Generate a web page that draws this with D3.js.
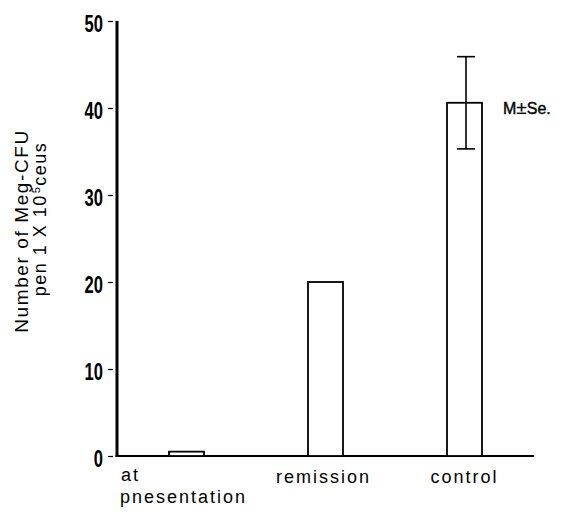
<!DOCTYPE html>
<html><head><meta charset="utf-8">
<script src="https://cdn.jsdelivr.net/npm/d3@7"></script>
<style>body{margin:0;background:#fff}svg{display:block}</style>
</head><body><svg id="c" width="578" height="512"></svg>
<script>
const categories = ["at presentation", "remission", "control"];
const values = [0.5, 20, 40.6];
const errors = [null, null, 5.3];
const yTicks = [0, 10, 20, 30, 40, 50];

const svg = d3.select("#c");
const x0 = 117, x1 = 534, yTop = 21, yBot = 456;
const x = d3.scalePoint().domain(categories).range([x0, x1]).padding(0.5);
const y = d3.scaleLinear().domain([0, 50]).range([yBot, yTop]);
const bw = 35;

// y axis
const yAxis = d3.axisLeft(y).tickValues(yTicks).tickSize(7).tickPadding(4).tickFormat(d3.format("d"));
const ga = svg.append("g").attr("transform", `translate(${x0 - 2},0)`).call(yAxis);
ga.select(".domain").remove();
ga.selectAll(".tick line").attr("stroke", "#000").attr("stroke-width", 1.2).attr("x2", -2).attr("x1", -7);
const sx = 0.72;
ga.selectAll(".tick text")
  .attr("font-family", "'Liberation Sans', Arial, sans-serif")
  .attr("font-weight", "bold").attr("font-size", 23).attr("fill", "#000")
  .attr("dy", "0.45em").attr("x", -12 / sx)
  .attr("transform", `scale(${sx},1)`);
svg.append("line").attr("x1", x0).attr("x2", x0).attr("y1", y(50)).attr("y2", yBot + 1)
  .attr("stroke", "#000").attr("stroke-width", 3);
// x axis
svg.append("line").attr("x1", x0 - 1.5).attr("x2", x1).attr("y1", yBot).attr("y2", yBot)
  .attr("stroke", "#000").attr("stroke-width", 2);

// bars
svg.selectAll("rect.bar").data(categories).enter().append("rect")
  .attr("x", d => x(d) - bw / 2).attr("width", bw)
  .attr("y", (d, i) => y(values[i])).attr("height", (d, i) => yBot - y(values[i]))
  .attr("fill", "#fff").attr("stroke", "#000").attr("stroke-width", 1.8);

// error bars
categories.forEach((c, i) => {
  if (errors[i] == null) return;
  const cx = x(c) + 1.5, hi = y(values[i] + errors[i]), lo = y(values[i] - errors[i]);
  svg.append("line").attr("x1", cx).attr("x2", cx).attr("y1", hi).attr("y2", lo).attr("stroke", "#000").attr("stroke-width", 1.6);
  [hi, lo].forEach(v => svg.append("line").attr("x1", cx - 9).attr("x2", cx + 9).attr("y1", v).attr("y2", v).attr("stroke", "#000").attr("stroke-width", 1.6));
});

const ff = "'Liberation Sans', Arial, sans-serif";
// x labels
svg.append("text").attr("x", 121).attr("y", 481).text("at")
  .attr("font-family", ff).attr("font-size", 18).attr("letter-spacing", 2);
svg.append("text").attr("x", 120).attr("y", 503).text("pnesentation")
  .attr("font-family", ff).attr("font-size", 18).attr("letter-spacing", 2);
svg.append("text").attr("x", x(categories[1]) - 2).attr("y", 483).attr("text-anchor", "middle").text("remission")
  .attr("font-family", ff).attr("font-size", 18).attr("letter-spacing", 2);
svg.append("text").attr("x", x(categories[2])).attr("y", 483).attr("text-anchor", "middle").text("control")
  .attr("font-family", ff).attr("font-size", 18).attr("letter-spacing", 2);

// legend text
const lg = svg.append("text").attr("x", 503).attr("y", 114)
  .attr("font-family", ff).attr("font-size", 16).attr("stroke", "#000").attr("stroke-width", 0.4);
lg.append("tspan").text("M");
lg.append("tspan").attr("font-size", 19).attr("stroke-width", 0.2).text("\u00b1");
lg.append("tspan").text("Se.");

// y label
const yl = svg.append("g").attr("transform", "translate(0,231) rotate(-90)");
yl.append("text").attr("x", 0).attr("y", 28).attr("text-anchor", "middle").text("Number of Meg-CFU")
  .attr("font-family", ff).attr("font-size", 19).attr("letter-spacing", 1.6);
const t2 = yl.append("text").attr("x", 12).attr("y", 46).attr("text-anchor", "middle")
  .attr("font-family", ff).attr("font-size", 18).attr("letter-spacing", 1.5);
t2.append("tspan").text("pen 1 X 10");
t2.append("tspan").attr("dy", -6).attr("font-size", 11).attr("dx", 1).text("5");
t2.append("tspan").attr("dy", 6).text("ceus");
</script></body></html>
